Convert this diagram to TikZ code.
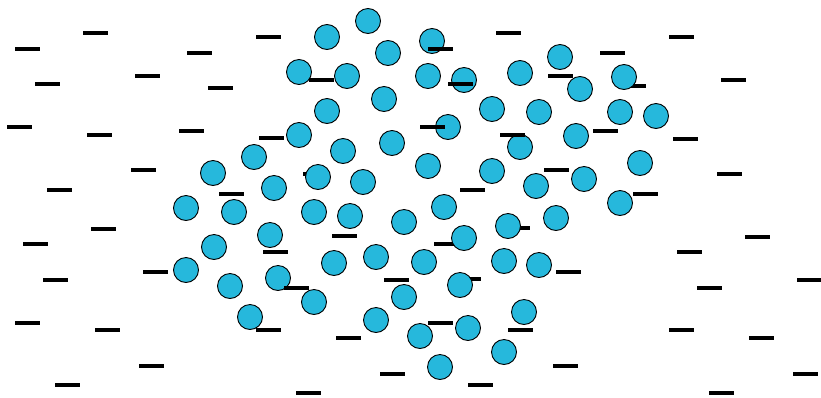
\documentclass[tikz,border=0pt]{standalone}
\usepackage{xcolor}
\usepackage{tikz}
\usetikzlibrary{positioning}

\definecolor{ioncyan}{RGB}{38,184,220}

\tikzset{
	ion/.style={circle, draw=black, fill=ioncyan, line width=0.9pt, minimum size=25pt, inner sep=0pt},
	charge/.style={rectangle, fill=black, minimum width=25pt, minimum height=3.5pt, inner sep=0pt},
}

\begin{document}
\begin{tikzpicture}[x=1pt, y=-1pt]
	\useasboundingbox (0,0) rectangle (821,397);
	% charges hidden behind the ions
	\foreach \x/\y [count=\i] in {315/174, 446/244, 517/228, 633/86, 468/279}
		\node[charge] (qb\i) at (\x,\y) {};
	% ions
	\foreach \x/\y [count=\i] in {368/21, 327/37, 432/41, 388/53, 560/57, 299/72, 347/76, 428/76,
			464/80, 520/73, 580/89, 624/77, 384/99, 327/111, 492/109, 539/112, 620/112, 656/116,
			448/127, 299/135, 392/143, 576/136, 254/157, 343/151, 520/147, 428/166, 213/173,
			492/171, 640/163, 318/177, 363/182, 274/188, 584/179, 536/186, 186/208, 234/212,
			314/212, 350/216, 444/207, 620/203, 404/222, 508/226, 556/218, 270/235, 464/238,
			214/247, 334/263, 376/257, 424/262, 504/261, 539/265, 186/270, 278/278, 230/286,
			460/285, 404/297, 314/302, 250/317, 524/312, 376/320, 468/328, 420/336, 504/352, 440/367}
		\node[ion] (ion\i) at (\x,\y) {};
	% free charges
	\foreach \x/\y [count=\i] in {95/33, 27/49, 268/37, 199/53, 147/76, 47/84, 220/88, 19/127,
			99/135, 191/131, 143/170, 59/190, 231/194, 103/229, 35/244, 155/272, 55/280, 27/323,
			107/330, 268/330, 151/366, 67/385, 440/49, 321/80, 460/84, 271/138, 432/127, 512/135,
			508/33, 560/76, 472/190, 556/170, 612/53, 681/37, 733/80, 605/131, 685/139, 729/174,
			645/194, 344/236, 275/252, 296/288, 396/280, 440/323, 520/330, 348/338, 392/374,
			480/385, 308/393, 568/272, 757/237, 689/252, 809/280, 709/288, 681/330, 761/338,
			565/366, 805/374, 721/393}
		\node[charge] (q\i) at (\x,\y) {};
\end{tikzpicture}
\end{document}
